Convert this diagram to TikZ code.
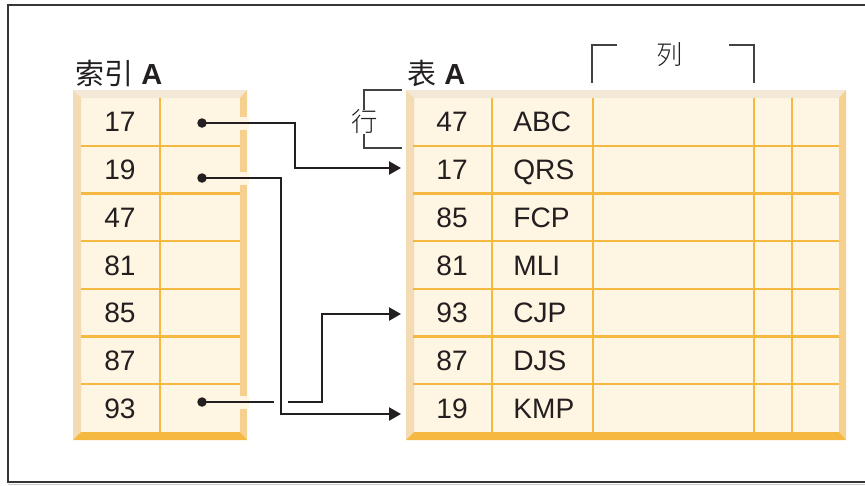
\documentclass[tikz,border=0pt]{standalone}
\usepackage{fontspec}
\setmainfont{Liberation Sans}
\newfontfamily\cjk{Noto Sans CJK SC}
\newfontfamily\cjklight{Noto Sans CJK SC Light}
\usepackage{tikz}
\usetikzlibrary{arrows.meta}
\definecolor{ink}{HTML}{231F20}
\definecolor{cellbg}{HTML}{FFF5E3}
\definecolor{gridc}{HTML}{F5B942}
\definecolor{bevtop}{HTML}{F3E7D5}
\definecolor{bevleft}{HTML}{F3DBB3}
\definecolor{bevright}{HTML}{F5D08E}
\definecolor{bevbot}{HTML}{F5B942}
\newcommand{\bevelbox}[4]{%
  \fill[cellbg] (#1,#2) rectangle (#3,#4);
  \fill[bevtop] (#1,#2) -- (#3,#2) -- (#3-7,#2+8) -- (#1+8,#2+8) -- cycle;
  \fill[bevleft] (#1,#2) -- (#1+8,#2+8) -- (#1+8,#4-8) -- (#1,#4) -- cycle;
  \fill[bevright] (#3,#2) -- (#3-7,#2+8) -- (#3-7,#4-8) -- (#3,#4) -- cycle;
  \fill[bevbot] (#1,#4) -- (#1+8,#4-8) -- (#3-7,#4-8) -- (#3,#4) -- cycle;
}

\begin{document}
\begin{tikzpicture}[x=0.02cm, y=-0.02cm, font=\fontsize{16}{19}\selectfont, text=ink]
   \useasboundingbox (0,0) rectangle (865,485);
   \tikzset{
     keycell/.style={anchor=base, inner sep=0pt},
     namecell/.style={anchor=base west, inner sep=0pt},
     caption/.style={anchor=base west, inner sep=0pt, font=\fontsize{16.5}{19}\selectfont},
     rowcol/.style={inner sep=0pt, font=\cjklight\fontsize{15}{18}\selectfont},
     dot/.style={circle, fill=ink, inner sep=0pt, minimum size=0.19cm},
     link/.style={draw=ink, line width=0.045cm, -{Triangle[length=0.24cm,width=0.26cm]}},
     halo/.style={draw=cellbg, line width=0.26cm},
     hop/.style={draw=white, line width=0.28cm},
     brk/.style={draw=ink!85, line width=0.035cm},
     gridline/.style={draw=gridc, line width=0.045cm}
   }
   \draw[ink!90, line width=0.04cm] (865,5) -- (8,5) -- (8,482) -- (865,482);
   \draw[gray!40, line width=0.03cm] (8,484.5) -- (865,484.5);

   \bevelbox{73}{90}{247}{440}
   \bevelbox{406}{90}{846}{440}
   \draw[gridline] (160,98) -- (160,432);
   \foreach \x in {492,593,754,792} \draw[gridline] (\x,98) -- (\x,432);
   \foreach \y in {145.7,193.4,241.1,288.9,336.6,384.3} {
     \draw[gridline] (81,\y) -- (240,\y);
     \draw[gridline] (413,\y) -- (839,\y);
   }

   \node[caption] (capidx) at (75,84) {{\cjk 索引} \textbf{A}};
   \node[caption] (captab) at (407,84) {{\cjk 表} \textbf{A}};
   \draw[brk] (402,90) -- (364,90) -- (364,148) -- (402,148);
   \node[rowcol, fill=white] (row) at (365,122) {行};
   \draw[brk] (617,45) -- (592,45) -- (592,83);
   \draw[brk] (729,45) -- (754,45) -- (754,83);
   \node[rowcol] (col) at (670,55) {列};

   \begin{scope}[every node/.style={keycell}]
    \node (i1) at (120,131.9) {17};
    \node (i2) at (120,179.6) {19};
    \node (i3) at (120,227.3) {47};
    \node (i4) at (120,275.0) {81};
    \node (i5) at (120,322.7) {85};
    \node (i6) at (120,370.4) {87};
    \node (i7) at (120,418.1) {93};
    \node (k1) at (452,131.9) {47};
    \node (k2) at (452,179.6) {17};
    \node (k3) at (452,227.3) {85};
    \node (k4) at (452,275.0) {81};
    \node (k5) at (452,322.7) {93};
    \node (k6) at (452,370.4) {87};
    \node (k7) at (452,418.1) {19};
   \end{scope}
   \begin{scope}[every node/.style={namecell}]
    \node (n1) at (513,131.9) {ABC};
    \node (n2) at (513,179.6) {QRS};
    \node (n3) at (513,227.3) {FCP};
    \node (n4) at (513,275.0) {MLI};
    \node (n5) at (513,322.7) {CJP};
    \node (n6) at (513,370.4) {DJS};
    \node (n7) at (513,418.1) {KMP};
   \end{scope}

   \coordinate (d1) at (202,123);
   \coordinate (d2) at (202,178);
   \coordinate (d7) at (202,402);
   \coordinate (e2) at (401,168);
   \coordinate (e5) at (401,314);
   \coordinate (e7) at (401,414);
   \draw[halo] (d1) -- ++(47,0);
   \draw[halo] (d2) -- ++(47,0);
   \draw[halo] (d7) -- ++(47,0);
   \draw[link] (d1) -- ++(93,0) |- (e2);
   \draw[link] (d7) -- ++(120,0) |- (e5);
   \draw[hop] (281,395) -- (281,409);
   \draw[link] (d2) -- ++(79,0) |- (e7);
   \node[dot] (p1) at (d1) {};
   \node[dot] (p2) at (d2) {};
   \node[dot] (p7) at (d7) {};
\end{tikzpicture}
\end{document}
